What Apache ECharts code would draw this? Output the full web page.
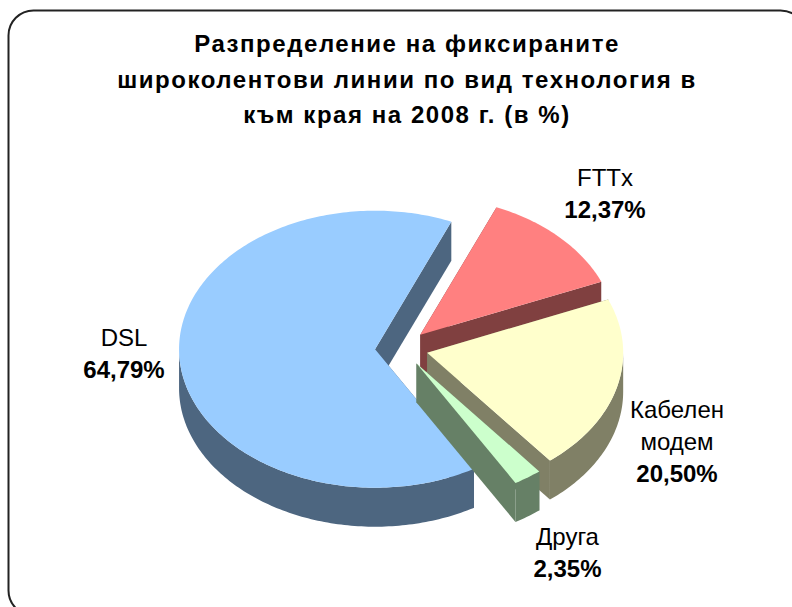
<!DOCTYPE html>
<html>
<head>
<meta charset="utf-8">
<style>html,body{margin:0;padding:0;background:#fff}#main{width:792px;height:607px}</style>
<script src="https://cdn.jsdelivr.net/npm/echarts@6/dist/echarts.min.js"></script>
</head>
<body>
<div id="main"></div>
<script>
var titleLines = ['Разпределение на фиксираните', 'широколентови линии по вид технология в', 'към края на 2008 г. (в %)'];
// clockwise from the start angle, as in the original sheet
var categories = ['FTTx', 'Кабелен\nмодем', 'Друга', 'DSL'];
var values = [12.37, 20.50, 2.35, 64.79];
var topColors = ['#FF8080', '#FFFFCC', '#CCFFCC', '#99CCFF'];
var sideColors = ['#804040', '#808066', '#668066', '#4D6680'];
var paintOrder = [0, 2, 3, 1];
var labelAnchors = [[605, 193], [677, 441], [567.5, 552], [124, 353.5]];

var cx = 401.5, cy = 348, rx = 196, ry = 138.5, depth = 39, explode = 26.5, startAngle = 22.9;
var total = 0;
values.forEach(function(v){ total += v; });

function pt(ox, oy, a, dy){
	var r = a * Math.PI / 180;
	return [ox + rx * Math.sin(r), oy - ry * Math.cos(r) + (dy || 0)];
}

function renderSlice(params, api){
	var i = params.dataIndex;
	var sum = 0;
	for (var k = 0; k < i; k++) sum += values[k];
	var a0 = startAngle + sum / total * 360;
	var a1 = a0 + api.value(0) / total * 360;
	var mid = (a0 + a1) / 2 * Math.PI / 180;
	var ox = cx + explode * Math.sin(mid);
	var oy = cy - explode * ry / rx * Math.cos(mid);
	var z = paintOrder[i] * 10;
	var children = [];

	// cut faces
	[a0, a1].forEach(function(a){
		var e = pt(ox, oy, a);
		children.push({type: 'polygon', z2: z,
			shape: {points: [[ox, oy], e, [e[0], e[1] + depth], [ox, oy + depth]]},
			style: {fill: sideColors[i]}});
	});

	// outer wall, only the part facing the viewer
	var f0 = Math.max(a0, 90), f1 = Math.min(a1, 270);
	if (f1 > f0) {
		var wall = [], a;
		for (a = f0; a < f1; a += 1) wall.push(pt(ox, oy, a));
		wall.push(pt(ox, oy, f1));
		for (a = f1; a > f0; a -= 1) wall.push(pt(ox, oy, a, depth));
		wall.push(pt(ox, oy, f0, depth));
		children.push({type: 'polygon', z2: z + 1, shape: {points: wall}, style: {fill: sideColors[i]}});
	}

	// top
	var top = [[ox, oy]];
	for (var b = a0; b < a1; b += 1) top.push(pt(ox, oy, b));
	top.push(pt(ox, oy, a1));
	children.push({type: 'polygon', z2: z + 2, shape: {points: top}, style: {fill: topColors[i]}});

	children.push({type: 'text', z2: 100, x: labelAnchors[i][0], y: labelAnchors[i][1],
		style: {
			text: '{n|' + categories[i].split('\n').join('}\n{n|') + '}\n{p|' + values[i].toFixed(2).replace('.', ',') + '%}',
			align: 'center', verticalAlign: 'middle',
			rich: {
				n: {fontFamily: 'Liberation Sans', fontSize: 24, lineHeight: 32, fill: '#000', align: 'center'},
				p: {fontFamily: 'Liberation Sans', fontSize: 24, fontWeight: 'bold', lineHeight: 32, fill: '#000', align: 'center'}
			}
		}});
	return {type: 'group', children: children};
}

var myChart = echarts.init(document.getElementById('main'), null, {renderer: 'svg'});
var option = {
	animation: false,
	backgroundColor: '#fff',
	title: {
		text: titleLines.join('\n'),
		left: 402, top: 21, textAlign: 'center',
		textStyle: {fontFamily: 'Liberation Sans', fontSize: 24, fontWeight: 'bold', lineHeight: 35.5, color: '#000'}
	},
	graphic: [{
		type: 'rect', silent: true,
		shape: {x: 8.5, y: 10.5, width: 797, height: 605, r: 25},
		style: {fill: 'none', stroke: '#222', lineWidth: 2}
	}],
	series: [{
		type: 'custom',
		coordinateSystem: 'none',
		renderItem: renderSlice,
		data: values.map(function(v){ return [v]; })
	}]
};
myChart.setOption(option);

// the title in the original is set a little wide
document.querySelectorAll('#main text').forEach(function(t){
	if (titleLines.indexOf(t.textContent) >= 0) t.style.letterSpacing = '1.55px';
});
</script>
</body>
</html>
